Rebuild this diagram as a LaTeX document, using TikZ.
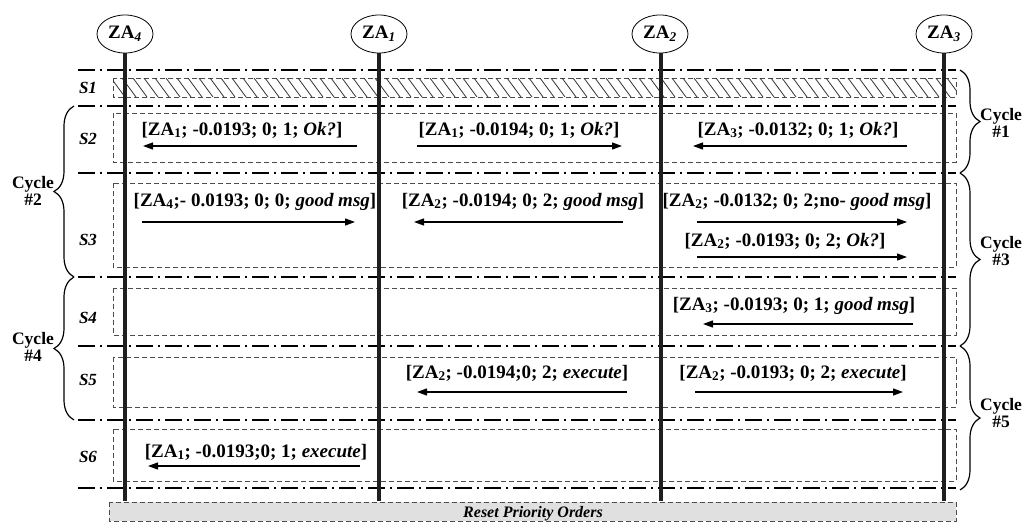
\documentclass[tikz,border=0pt]{standalone}
\usepackage{fontspec}
\setmainfont{Liberation Serif}
\usetikzlibrary{arrows.meta,decorations.pathreplacing,shapes.geometric}
\begin{document}
\begin{tikzpicture}[x=1pt,y=-1pt,
 sep/.style={line width=1.8pt, dash pattern=on 17pt off 5pt on 2pt off 5pt},
 slot/.style={line width=0.7pt, dash pattern=on 5pt off 3pt, black!70},
 life/.style={line width=4pt, black!88},
 agent/.style={ellipse, draw, line width=0.8pt, fill=white, minimum width=56pt, minimum height=38pt, inner sep=0pt, font=\fontsize{19}{20}\selectfont\bfseries},
 msg/.style={font=\fontsize{19}{20}\selectfont\bfseries, inner sep=0pt, anchor=base},
 marr/.style={line width=1.2pt, -{Triangle[length=10pt,width=7pt]}},
 slabel/.style={font=\fontsize{17}{18}\selectfont\bfseries\itshape},
 cyc/.style={font=\fontsize{17.5}{17}\selectfont\bfseries, align=center, inner sep=0pt},
 brcw/.style={decorate, decoration={brace, amplitude=20pt}, line width=1.2pt},
 hatch/.style={line width=0.8pt, black!80}
]
\useasboundingbox (0,0) rectangle (1029,525);

% separators
\foreach \yy in {70,106,173,277,346,420,488}
  \draw[sep] (78,\yy) -- (956,\yy);

% slot boxes
\draw[slot] (113,78) rectangle (956,97);
\begin{scope}
  \clip (113,78) rectangle (956,97);
  \foreach \xx in {100,111,...,960}
    \draw[hatch] (\xx,78) -- (\xx+14,97);
\end{scope}
\draw[slot] (113,113) rectangle (956,162);
\draw[slot] (113,183) rectangle (956,267);
\draw[slot] (113,288) rectangle (956,335);
\draw[slot] (113,357) rectangle (956,407);
\draw[slot] (113,429) rectangle (956,481);

% reset box
\draw[slot, fill=black!12] (109,502) rectangle (956,521);
\node[font=\fontsize{16}{16}\selectfont\bfseries\itshape, inner sep=0pt, anchor=base] (reset) at (533,517) {Reset Priority Orders};

% agents and lifelines
\node[agent] (za4) at (125,34) {ZA\textsubscript{\textit{4}}};
\node[agent] (za1) at (379,34) {ZA\textsubscript{\textit{1}}};
\node[agent] (za2) at (660,34) {ZA\textsubscript{\textit{2}}};
\node[agent] (za3) at (944,34) {ZA\textsubscript{\textit{3}}};
\coordinate (e4) at (125,501);
\coordinate (e1) at (379,501);
\coordinate (e2) at (661,501);
\coordinate (e3) at (944,501);
\draw[life] (za4.south -| e4) -- (e4);
\draw[life] (za1.south -| e1) -- (e1);
\draw[life] (za2.south -| e2) -- (e2);
\draw[life] (za3.south -| e3) -- (e3);

% slot labels
\node[slabel] (s1) at (88,88) {S1};
\node[slabel] (s2) at (88,139) {S2};
\node[slabel] (s3) at (88,240) {S3};
\node[slabel] (s4) at (88,318) {S4};
\node[slabel] (s5) at (88,380) {S5};
\node[slabel] (s6) at (88,457) {S6};

% S2 messages
\node[msg] (m1) at (242,135) {[ZA\textsubscript{1}; -0.0193; 0; 1; \textit{Ok?}]};
\coordinate (a1s) at (357,146); \coordinate (a1e) at (143,146);
\draw[marr] (a1s) -- (a1e);
\node[msg] (m2) at (519,135) {[ZA\textsubscript{1}; -0.0194; 0; 1; \textit{Ok?}]};
\coordinate (a2s) at (417,146); \coordinate (a2e) at (622,146);
\draw[marr] (a2s) -- (a2e);
\node[msg] (m3) at (798,135) {[ZA\textsubscript{3}; -0.0132; 0; 1; \textit{Ok?}]};
\coordinate (a3s) at (907,146); \coordinate (a3e) at (693,146);
\draw[marr] (a3s) -- (a3e);

% S3 messages
\node[msg] (m4) at (255,206) {[ZA\textsubscript{4};- 0.0193; 0; 0; \textit{good msg}]};
\coordinate (a4s) at (142,222); \coordinate (a4e) at (355,222);
\draw[marr] (a4s) -- (a4e);
\node[msg] (m5) at (523,206) {[ZA\textsubscript{2}; -0.0194; 0; 2; \textit{good msg}]};
\coordinate (a5s) at (623,222); \coordinate (a5e) at (414,222);
\draw[marr] (a5s) -- (a5e);
\node[msg] (m6) at (797,206) {[ZA\textsubscript{2}; -0.0132; 0; 2;no- \textit{good msg}]};
\coordinate (a6s) at (697,222); \coordinate (a6e) at (907,222);
\draw[marr] (a6s) -- (a6e);
\node[msg] (m7) at (785,246) {[ZA\textsubscript{2}; -0.0193; 0; 2; \textit{Ok?}]};
\coordinate (a7s) at (697,257); \coordinate (a7e) at (907,257);
\draw[marr] (a7s) -- (a7e);

% S4 message
\node[msg] (m8) at (794,310) {[ZA\textsubscript{3}; -0.0193; 0; 1; \textit{good msg}]};
\coordinate (a8s) at (913,324); \coordinate (a8e) at (703,324);
\draw[marr] (a8s) -- (a8e);

% S5 messages
\node[msg] (m9) at (517,378) {[ZA\textsubscript{2}; -0.0194;0; 2; \textit{execute}]};
\coordinate (a9s) at (627,392); \coordinate (a9e) at (417,392);
\draw[marr] (a9s) -- (a9e);
\node[msg] (m10) at (793,378) {[ZA\textsubscript{2}; -0.0193; 0; 2; \textit{execute}]};
\coordinate (a10s) at (695,392); \coordinate (a10e) at (903,392);
\draw[marr] (a10s) -- (a10e);

% S6 message
\node[msg] (m11) at (256,457) {[ZA\textsubscript{1}; -0.0193;0; 1; \textit{execute}]};
\coordinate (a11s) at (360,466); \coordinate (a11e) at (148,466);
\draw[marr] (a11s) -- (a11e);

% cycle braces, left
\coordinate (l2a) at (74,277); \coordinate (l2b) at (74,106);
\draw[brcw] (l2a) -- (l2b);
\node[cyc] (c2) at (33,191) {Cycle\\\#2};
\coordinate (l4a) at (74,420); \coordinate (l4b) at (74,277);
\draw[brcw] (l4a) -- (l4b);
\node[cyc] (c4) at (33,347) {Cycle\\\#4};

% cycle braces, right
\coordinate (r1a) at (960,70); \coordinate (r1b) at (960,173);
\draw[brcw] (r1a) -- (r1b);
\node[cyc] (c1) at (1001,123) {Cycle\\\#1};
\coordinate (r3a) at (960,173); \coordinate (r3b) at (960,346);
\draw[brcw] (r3a) -- (r3b);
\node[cyc] (c3) at (1001,251) {Cycle\\\#3};
\coordinate (r5a) at (960,346); \coordinate (r5b) at (960,490);
\draw[brcw] (r5a) -- (r5b);
\node[cyc] (c5) at (1001,413) {Cycle\\\#5};
\end{tikzpicture}
\end{document}
